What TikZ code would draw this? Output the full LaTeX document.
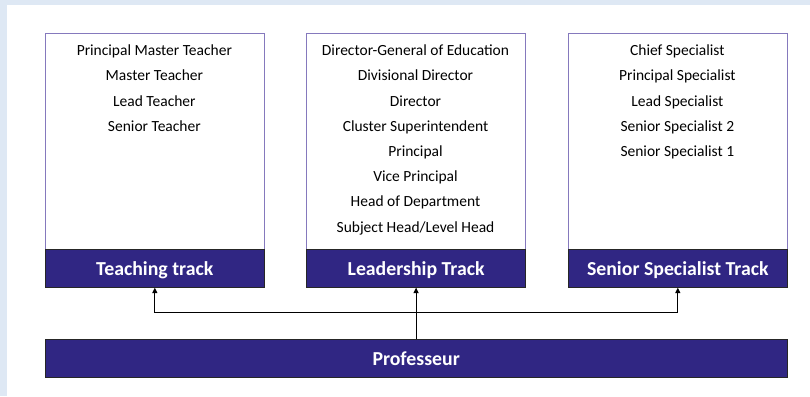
\documentclass[tikz,border=0pt]{standalone}
\usepackage{fontspec}
\setmainfont{Carlito}
\usetikzlibrary{arrows.meta}
\definecolor{bgblue}{HTML}{DEE8F4}
\definecolor{barblue}{HTML}{302683}
\definecolor{lav}{HTML}{8579BD}
\begin{document}
\begin{tikzpicture}[x=1pt,y=-1pt,
  wbox/.style={draw=lav, line width=1pt, fill=white, anchor=north west, minimum width=219.3pt, minimum height=215.7pt, inner sep=0pt},
  trackbar/.style={draw=black!85, line width=0.9pt, fill=barblue, text=white, anchor=north west, minimum width=219.3pt, minimum height=37.7pt, inner sep=0pt, font=\fontsize{19.8}{22}\selectfont\bfseries, text height=14.3pt, text depth=0pt},
  item/.style={anchor=base, inner sep=0pt, font=\fontsize{15.5}{18}\selectfont},
  conn/.style={line width=1.2pt, black},
  tip/.style={-{Triangle[length=5.5pt,width=5pt]}}
]
\useasboundingbox (0,0) rectangle (810,396);
\fill[bgblue] (0,0) rectangle (810,396);
\fill[white] (6.7,5) rectangle (810,396);

% boxes
\node[wbox] (tbox) at (44.7,33.3) {};
\node[wbox] (lbox) at (306,33.3) {};
\node[wbox] (sbox) at (567.7,33.3) {};

% track bars
\node[trackbar] (tbar) at (44.7,249) {Teaching track};
\node[trackbar] (lbar) at (306,249) {Leadership Track};
\node[trackbar] (sbar) at (567.7,249) {Senior Specialist Track};

% professeur bar
\node[trackbar, minimum width=742pt, minimum height=38pt, text height=13.4pt] (prof) at (44.7,339.3) {Professeur};

% teaching items
\node[item] (t1) at (154.35,55.7) {Principal Master Teacher};
\node[item] (t2) at (154.35,80.9) {Master Teacher};
\node[item] (t3) at (154.35,106.1) {Lead Teacher};
\node[item] (t4) at (154.35,131.3) {Senior Teacher};

% leadership items
\node[item] (l1) at (415.5,55.7) {Director-General of Education};
\node[item] (l2) at (415.5,80.9) {Divisional Director};
\node[item] (l3) at (415.5,106.1) {Director};
\node[item] (l4) at (415.5,131.3) {Cluster Superintendent};
\node[item] (l5) at (415.5,156.5) {Principal};
\node[item] (l6) at (415.5,181.7) {Vice Principal};
\node[item] (l7) at (415.5,206.9) {Head of Department};
\node[item] (l8) at (415.5,232.1) {Subject Head/Level Head};

% specialist items
\node[item] (s1) at (677.35,55.7) {Chief Specialist};
\node[item] (s2) at (677.35,80.9) {Principal Specialist};
\node[item] (s3) at (677.35,106.1) {Lead Specialist};
\node[item] (s4) at (677.35,131.3) {Senior Specialist 2};
\node[item] (s5) at (677.35,156.5) {Senior Specialist 1};

% connectors
\coordinate (j) at (415.5,312.7);
\draw[conn, tip] (prof.north -| lbar.south) -- (lbar.south);
\draw[conn, tip] (j) -| (tbar.south);
\draw[conn, tip] (j) -| (sbar.south);
\end{tikzpicture}
\end{document}
